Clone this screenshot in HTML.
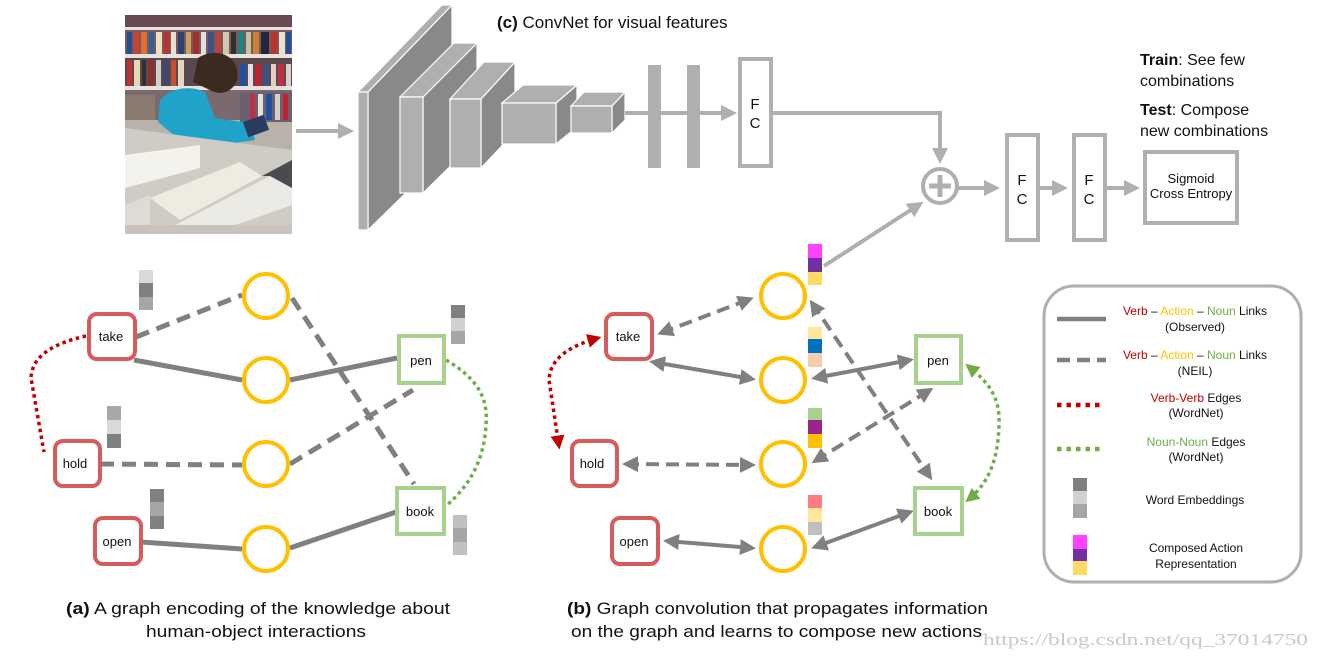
<!DOCTYPE html>
<html><head><meta charset="utf-8"><style>
html,body{margin:0;padding:0;background:#fff;width:1318px;height:659px;overflow:hidden}
svg{display:block}
text{font-family:"Liberation Sans",Arial,sans-serif;fill:#111}
</style></head><body>
<svg width="1318" height="659" viewBox="0 0 1318 659" xmlns="http://www.w3.org/2000/svg">
<defs>
<marker id="ag" markerWidth="4" markerHeight="4" refX="3" refY="2" orient="auto-start-reverse" markerUnits="strokeWidth"><path d="M0,0 L4,2 L0,4 z" fill="#808080"/></marker>
<marker id="al" markerWidth="4" markerHeight="4" refX="3" refY="2" orient="auto" markerUnits="strokeWidth"><path d="M0,0 L4,2 L0,4 z" fill="#b0aeae"/></marker>
<marker id="ar" markerWidth="4" markerHeight="4" refX="3" refY="2" orient="auto-start-reverse" markerUnits="strokeWidth"><path d="M0,0 L4,2 L0,4 z" fill="#c00000"/></marker>
<marker id="an" markerWidth="4" markerHeight="4" refX="3" refY="2" orient="auto-start-reverse" markerUnits="strokeWidth"><path d="M0,0 L4,2 L0,4 z" fill="#70ad47"/></marker>
</defs>

<!-- photo -->
<g>
<rect x="125" y="15" width="167" height="219" fill="#b8b2aa"/>
<rect x="125" y="15" width="167" height="12" fill="#6a4a50"/>
<rect x="125" y="27" width="167" height="3" fill="#e6e2dc"/>
<rect x="125" y="30" width="167" height="24" fill="#7a5a58"/>
<g>
<rect x="127" y="32" width="5" height="22" fill="#2b4c8c"/><rect x="134" y="32" width="5" height="22" fill="#d04030"/><rect x="141" y="32" width="6" height="22" fill="#e07030"/><rect x="149" y="32" width="5" height="22" fill="#3060a0"/><rect x="156" y="32" width="6" height="22" fill="#f0e0c0"/><rect x="164" y="32" width="5" height="22" fill="#c03030"/><rect x="171" y="32" width="5" height="22" fill="#e8e0d0"/><rect x="178" y="32" width="6" height="22" fill="#304070"/><rect x="186" y="32" width="5" height="22" fill="#c8a060"/><rect x="193" y="32" width="6" height="22" fill="#a03030"/><rect x="201" y="32" width="5" height="22" fill="#e0e0e0"/><rect x="208" y="32" width="6" height="22" fill="#405080"/><rect x="216" y="32" width="5" height="22" fill="#c04040"/><rect x="223" y="32" width="6" height="22" fill="#d0c8b0"/><rect x="231" y="32" width="5" height="22" fill="#303030"/><rect x="238" y="32" width="6" height="22" fill="#208080"/><rect x="246" y="32" width="5" height="22" fill="#c8c0a0"/><rect x="253" y="32" width="6" height="22" fill="#d08030"/><rect x="261" y="32" width="8" height="22" fill="#202840"/><rect x="271" y="32" width="6" height="22" fill="#c03030"/><rect x="279" y="32" width="6" height="22" fill="#e8e0d0"/><rect x="286" y="32" width="5" height="22" fill="#2050a0"/>
</g>
<rect x="125" y="54" width="167" height="4" fill="#e6e2dc"/>
<rect x="125" y="58" width="167" height="28" fill="#5a4a50"/>
<g>
<rect x="127" y="60" width="5" height="26" fill="#c03030"/><rect x="134" y="60" width="6" height="26" fill="#e8d8b0"/><rect x="142" y="60" width="4" height="26" fill="#303030"/><rect x="148" y="60" width="6" height="26" fill="#8a3030"/><rect x="156" y="60" width="5" height="26" fill="#d0d0c8"/><rect x="163" y="60" width="6" height="26" fill="#404870"/><rect x="171" y="60" width="5" height="26" fill="#c85030"/><rect x="178" y="60" width="6" height="26" fill="#e0d8c0"/><rect x="240" y="64" width="6" height="22" fill="#2050a0"/><rect x="248" y="64" width="5" height="22" fill="#e0e0e0"/><rect x="255" y="64" width="6" height="22" fill="#c02030"/><rect x="263" y="64" width="6" height="22" fill="#405080"/><rect x="271" y="64" width="5" height="22" fill="#e0d0c0"/><rect x="278" y="64" width="6" height="22" fill="#c03040"/><rect x="286" y="64" width="5" height="22" fill="#d8d0c8"/>
</g>
<rect x="125" y="86" width="167" height="4" fill="#e6e2dc"/>
<rect x="125" y="90" width="167" height="30" fill="#7a6a70"/>
<rect x="240" y="92" width="52" height="30" fill="#6a6070"/>
<rect x="250" y="94" width="5" height="26" fill="#c03040"/><rect x="258" y="94" width="5" height="26" fill="#e0e0e0"/><rect x="266" y="94" width="6" height="26" fill="#2050a0"/><rect x="275" y="94" width="5" height="26" fill="#d8d0c0"/><rect x="283" y="94" width="5" height="26" fill="#c02030"/>
<rect x="125" y="95" width="30" height="25" fill="#8a7a70"/>
<path d="M198,58 C213,48 234,53 237,70 C241,86 226,96 214,92 L193,82 Z" fill="#3a2a20"/>
<path d="M160,100 C170,88 190,85 205,92 L215,118 L250,123 L255,140 L215,146 L180,140 L158,122 Z" fill="#1fa3c8"/>
<rect x="245" y="118" width="22" height="16" fill="#2a3a60" transform="rotate(-20 256 126)"/>
<path d="M125,128 L200,138 L292,150 L292,234 L125,234 Z" fill="#cfccc6"/>
<path d="M125,155 L200,145 L200,168 L125,188 Z" fill="#f4f2ec"/>
<path d="M150,198 L240,162 L262,176 L180,220 Z" fill="#f0ebe0"/>
<path d="M175,225 L270,176 L292,188 L292,205 L210,234 L175,234 Z" fill="#eceae4"/>
<path d="M262,176 L292,160 L292,188 L270,176 Z" fill="#4a4a50"/>
<path d="M125,205 L150,195 L150,234 L125,234 Z" fill="#e0dad4"/>
<rect x="125" y="225" width="167" height="9" fill="#c8c4bc"/>
</g>
<line x1="296" y1="131" x2="350" y2="131" stroke="#b0aeae" stroke-width="4" marker-end="url(#al)"/>

<!-- convnet -->
<g stroke="#fff" stroke-width="1.2">
<polygon points="368,92 452,5 452,148 368,230" fill="#8a8888"/>
<polygon points="358,92 442,5 452,5 368,92" fill="#b0aeae"/>
<rect x="358" y="92" width="10" height="138" fill="#b0aeae"/>
<polygon points="423,97 477,43 477,140 423,193" fill="#8a8888"/>
<polygon points="400,97 454,43 477,43 423,97" fill="#b0aeae"/>
<rect x="400" y="97" width="23" height="96" fill="#b0aeae"/>
<polygon points="481,99 515,62 515,132 481,168" fill="#8a8888"/>
<polygon points="450,99 484,62 515,62 481,99" fill="#b0aeae"/>
<rect x="450" y="99" width="31" height="69" fill="#b0aeae"/>
<polygon points="556,103 577,85 577,127 556,144" fill="#8a8888"/>
<polygon points="502,103 523,85 577,85 556,103" fill="#b0aeae"/>
<rect x="502" y="103" width="54" height="41" fill="#b0aeae"/>
<polygon points="612,106 625,92 625,120 612,133" fill="#8a8888"/>
<polygon points="571,106 584,92 625,92 612,106" fill="#b0aeae"/>
<rect x="571" y="106" width="41" height="27" fill="#b0aeae"/>
</g>
<line x1="625" y1="113" x2="733" y2="113" stroke="#b0aeae" stroke-width="4" marker-end="url(#al)"/>
<rect x="648" y="65" width="13" height="103" fill="#b0aeae"/>
<rect x="687" y="65" width="13" height="103" fill="#b0aeae"/>
<rect x="740" y="59" width="31" height="107" fill="#fff" stroke="#b0aeae" stroke-width="4"/>
<text x="755" y="109" font-size="15" text-anchor="middle">F</text>
<text x="755" y="128" font-size="15" text-anchor="middle">C</text>
<text x="497" y="28" font-size="17"><tspan font-weight="bold">(c)</tspan> ConvNet for visual features</text>

<polyline points="773,113 940,113 940,160" fill="none" stroke="#b0aeae" stroke-width="4" marker-end="url(#al)"/>
<circle cx="940" cy="186" r="17" fill="#fff" stroke="#b0aeae" stroke-width="4"/>
<line x1="929" y1="186" x2="951" y2="186" stroke="#b0aeae" stroke-width="5"/>
<line x1="940" y1="175" x2="940" y2="197" stroke="#b0aeae" stroke-width="5"/>
<line x1="824" y1="266" x2="920" y2="204" stroke="#b0aeae" stroke-width="4" marker-end="url(#al)"/>
<line x1="958" y1="188" x2="996" y2="188" stroke="#b0aeae" stroke-width="4" marker-end="url(#al)"/>
<rect x="1007" y="135" width="31" height="105" fill="#fff" stroke="#b0aeae" stroke-width="4"/>
<text x="1022" y="185" font-size="15" text-anchor="middle">F</text>
<text x="1022" y="204" font-size="15" text-anchor="middle">C</text>
<line x1="1039" y1="188" x2="1064" y2="188" stroke="#b0aeae" stroke-width="4" marker-end="url(#al)"/>
<rect x="1074" y="135" width="31" height="105" fill="#fff" stroke="#b0aeae" stroke-width="4"/>
<text x="1089" y="185" font-size="15" text-anchor="middle">F</text>
<text x="1089" y="204" font-size="15" text-anchor="middle">C</text>
<line x1="1107" y1="188" x2="1136" y2="188" stroke="#b0aeae" stroke-width="4" marker-end="url(#al)"/>
<rect x="1145" y="152" width="92" height="71" fill="#fff" stroke="#b0aeae" stroke-width="4"/>
<text x="1191" y="183" font-size="13" text-anchor="middle">Sigmoid</text>
<text x="1191" y="198" font-size="13" text-anchor="middle">Cross Entropy</text>
<text x="1140" y="65" font-size="16"><tspan font-weight="bold">Train</tspan>: See few</text>
<text x="1140" y="86" font-size="16">combinations</text>
<text x="1140" y="115" font-size="16"><tspan font-weight="bold">Test</tspan>: Compose</text>
<text x="1140" y="136" font-size="16">new combinations</text>

<!-- graph (a) -->
<g stroke="#808080" stroke-width="5" fill="none">
<line x1="136" y1="337" x2="242" y2="295" stroke-dasharray="14,8"/>
<line x1="134" y1="360" x2="242" y2="380"/>
<line x1="290" y1="380" x2="397" y2="358"/>
<line x1="292" y1="298" x2="414" y2="484" stroke-dasharray="14,8"/>
<line x1="100" y1="464" x2="242" y2="465" stroke-dasharray="14,8"/>
<line x1="290" y1="464" x2="413" y2="390" stroke-dasharray="14,8"/>
<line x1="141" y1="542" x2="242" y2="549"/>
<line x1="290" y1="548" x2="396" y2="512"/>
</g>
<path d="M86,336 C55,343 32,355 31,378 L44,452" fill="none" stroke="#c00000" stroke-width="3.5" stroke-dasharray="3.5,3.5"/>
<path d="M446,360 C480,380 488,400 486,425 C484,460 470,485 447,505" fill="none" stroke="#70ad47" stroke-width="3.5" stroke-dasharray="3.5,3.5"/>
<g fill="#fff" stroke="#d65b5b" stroke-width="4">
<rect x="89" y="314" width="46" height="45" rx="8"/>
<rect x="55" y="441" width="45" height="45" rx="8"/>
<rect x="95" y="518" width="46" height="46" rx="8"/>
</g>
<g fill="#fff" stroke="#a9d18e" stroke-width="4">
<rect x="399" y="336" width="45" height="47"/>
<rect x="397" y="488" width="47" height="46"/>
</g>
<g fill="#fff" stroke="#ffc000" stroke-width="4">
<circle cx="266" cy="296" r="22"/><circle cx="266" cy="380" r="22"/><circle cx="266" cy="464" r="22"/><circle cx="266" cy="549" r="22"/>
</g>
<g font-size="13" text-anchor="middle">
<text x="111" y="341">take</text><text x="75" y="468">hold</text><text x="117" y="546">open</text>
<text x="421" y="365">pen</text><text x="420" y="516">book</text>
</g>
<rect x="139" y="270" width="14" height="13" fill="#d9d9d9"/><rect x="139" y="283" width="14" height="14" fill="#808080"/><rect x="139" y="297" width="14" height="13" fill="#a6a6a6"/>
<rect x="107" y="406" width="14" height="14" fill="#aaa7a7"/><rect x="107" y="420" width="14" height="14" fill="#d9d9d9"/><rect x="107" y="434" width="14" height="14" fill="#808080"/>
<rect x="150" y="489" width="14" height="13" fill="#808080"/><rect x="150" y="502" width="14" height="14" fill="#a6a6a6"/><rect x="150" y="516" width="14" height="13" fill="#808080"/>
<rect x="451" y="305" width="14" height="13" fill="#808080"/><rect x="451" y="318" width="14" height="13" fill="#d0d0d0"/><rect x="451" y="331" width="14" height="13" fill="#a6a6a6"/>
<rect x="453" y="515" width="14" height="13" fill="#c0c0c0"/><rect x="453" y="528" width="14" height="14" fill="#a6a6a6"/><rect x="453" y="542" width="14" height="13" fill="#c0c0c0"/>

<!-- graph (b) -->
<g stroke="#808080" stroke-width="4" fill="none">
<line x1="661" y1="333" x2="750" y2="299" stroke-dasharray="13,7" marker-start="url(#ag)" marker-end="url(#ag)"/>
<line x1="653" y1="362" x2="752" y2="379" marker-start="url(#ag)" marker-end="url(#ag)"/>
<line x1="815" y1="378" x2="910" y2="360" marker-start="url(#ag)" marker-end="url(#ag)"/>
<line x1="812" y1="303" x2="930" y2="477" stroke-dasharray="13,7" marker-start="url(#ag)" marker-end="url(#ag)"/>
<line x1="626" y1="464" x2="752" y2="465" stroke-dasharray="13,7" marker-start="url(#ag)" marker-end="url(#ag)"/>
<line x1="815" y1="461" x2="930" y2="390" stroke-dasharray="13,7" marker-start="url(#ag)" marker-end="url(#ag)"/>
<line x1="667" y1="541" x2="752" y2="548" marker-start="url(#ag)" marker-end="url(#ag)"/>
<line x1="815" y1="547" x2="910" y2="512" marker-start="url(#ag)" marker-end="url(#ag)"/>
</g>
<path d="M598,338 C570,346 550,358 549,380 L559,446" fill="none" stroke="#c00000" stroke-width="3.5" stroke-dasharray="3.5,3.5" marker-start="url(#ar)" marker-end="url(#ar)"/>
<path d="M968,366 C992,385 1000,400 999,425 C998,458 990,482 968,500" fill="none" stroke="#70ad47" stroke-width="3.5" stroke-dasharray="3.5,3.5" marker-start="url(#an)" marker-end="url(#an)"/>
<g fill="#fff" stroke="#d65b5b" stroke-width="4">
<rect x="606" y="314" width="46" height="45" rx="8"/>
<rect x="572" y="441" width="45" height="45" rx="8"/>
<rect x="612" y="518" width="46" height="46" rx="8"/>
</g>
<g fill="#fff" stroke="#a9d18e" stroke-width="4">
<rect x="916" y="336" width="45" height="47"/>
<rect x="915" y="488" width="47" height="46"/>
</g>
<g fill="#fff" stroke="#ffc000" stroke-width="4">
<circle cx="783" cy="296" r="22"/><circle cx="783" cy="380" r="22"/><circle cx="783" cy="464" r="22"/><circle cx="783" cy="549" r="22"/>
</g>
<g font-size="13" text-anchor="middle">
<text x="628" y="341">take</text><text x="592" y="468">hold</text><text x="634" y="546">open</text>
<text x="938" y="365">pen</text><text x="938" y="516">book</text>
</g>
<rect x="808" y="244" width="14" height="14" fill="#ff40ff"/><rect x="808" y="258" width="14" height="14" fill="#7030a0"/><rect x="808" y="272" width="14" height="13" fill="#ffd966"/>
<rect x="808" y="327" width="14" height="12" fill="#ffe699"/><rect x="808" y="339" width="14" height="14" fill="#0070c0"/><rect x="808" y="353" width="14" height="14" fill="#f8cbad"/>
<rect x="808" y="408" width="14" height="12" fill="#a9d18e"/><rect x="808" y="420" width="14" height="14" fill="#9b2390"/><rect x="808" y="434" width="14" height="14" fill="#ffc000"/>
<rect x="808" y="495" width="14" height="13" fill="#ff7c80"/><rect x="808" y="508" width="14" height="14" fill="#ffe699"/><rect x="808" y="522" width="14" height="13" fill="#bfbfbf"/>

<!-- legend -->
<rect x="1044" y="286" width="257" height="296" rx="30" fill="#fff" stroke="#b0aeae" stroke-width="3"/>
<line x1="1057" y1="319" x2="1106" y2="319" stroke="#808080" stroke-width="4.5"/>
<line x1="1057" y1="360" x2="1106" y2="360" stroke="#808080" stroke-width="4.5" stroke-dasharray="13,7"/>
<line x1="1057" y1="405" x2="1104" y2="405" stroke="#c00000" stroke-width="4.5" stroke-dasharray="4.5,5"/>
<line x1="1057" y1="449" x2="1104" y2="449" stroke="#70ad47" stroke-width="4.5" stroke-dasharray="4.5,5"/>
<rect x="1073" y="478" width="14" height="13" fill="#808080"/><rect x="1073" y="491" width="14" height="13" fill="#d0d0d0"/><rect x="1073" y="504" width="14" height="14" fill="#a6a6a6"/>
<rect x="1073" y="535" width="14" height="14" fill="#ff40ff"/><rect x="1073" y="549" width="14" height="12" fill="#7030a0"/><rect x="1073" y="561" width="14" height="14" fill="#ffd966"/>
<g font-size="12" text-anchor="middle">
<text x="1195" y="315"><tspan fill="#c00000">Verb</tspan> – <tspan fill="#ffc000">Action</tspan> – <tspan fill="#70ad47">Noun</tspan> Links</text>
<text x="1195" y="331">(Observed)</text>
<text x="1195" y="359"><tspan fill="#c00000">Verb</tspan> – <tspan fill="#ffc000">Action</tspan> – <tspan fill="#70ad47">Noun</tspan> Links</text>
<text x="1195" y="375">(NEIL)</text>
<text x="1196" y="402"><tspan fill="#c00000">Verb-Verb</tspan> Edges</text>
<text x="1196" y="417">(WordNet)</text>
<text x="1196" y="446"><tspan fill="#70ad47">Noun-Noun</tspan> Edges</text>
<text x="1196" y="461">(WordNet)</text>
<text x="1195" y="504">Word Embeddings</text>
<text x="1196" y="552">Composed Action</text>
<text x="1196" y="568">Representation</text>
</g>

<!-- captions -->
<text x="66" y="614" font-size="17" textLength="384" lengthAdjust="spacingAndGlyphs"><tspan font-weight="bold">(a)</tspan> A graph encoding of the knowledge about</text>
<text x="146" y="637" font-size="17" textLength="220" lengthAdjust="spacingAndGlyphs">human-object interactions</text>
<text x="567" y="614" font-size="17" textLength="421" lengthAdjust="spacingAndGlyphs"><tspan font-weight="bold">(b)</tspan> Graph convolution that propagates information</text>
<text x="571" y="637" font-size="17" textLength="411" lengthAdjust="spacingAndGlyphs">on the graph and learns to compose new actions</text>
<text x="983" y="645" font-size="17" style="font-family:'Liberation Serif',serif;fill:#c8c8c8" textLength="325" lengthAdjust="spacingAndGlyphs">https://blog.csdn.net/qq_37014750</text>
</svg>
</body></html>
